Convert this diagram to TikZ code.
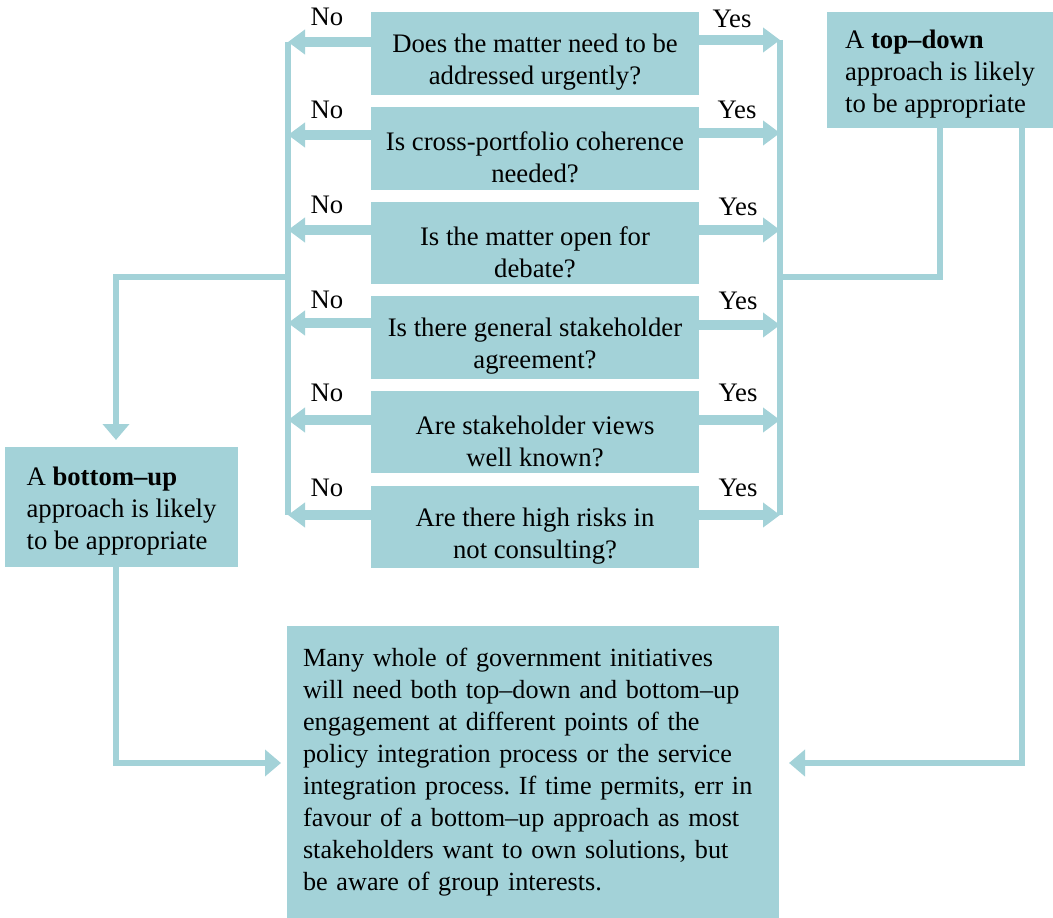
\documentclass[tikz,border=0pt]{standalone}
\usepackage{fontspec}
\setmainfont{Liberation Serif}
\usetikzlibrary{arrows.meta}
\definecolor{boxteal}{RGB}{163,210,216}
\frenchspacing
\newcommand{\qstrut}{\rule{0pt}{0.73cm}}
\newcommand{\astrut}{\rule{0pt}{0.52cm}}
\tikzset{
  qbox/.style={fill=boxteal, minimum width=6.56cm, minimum height=1.66cm, align=center, inner sep=0pt},
  abox/.style={fill=boxteal, align=left, inner sep=0pt},
  fat/.style={boxteal, line width=0.2cm, -{Triangle[width=0.48cm,length=0.34cm]}},
  link/.style={boxteal, line width=0.11cm},
  linkarrow/.style={link, -{Triangle[width=0.52cm,length=0.32cm]}},
  lbl/.style={inner sep=0pt}
}
\begin{document}
\begin{tikzpicture}[x=0.02cm, y=-0.02cm, font=\fontsize{15.2}{18.2}\selectfont]
    \useasboundingbox (0,0) rectangle (1053,918);

    % questions
    \node[qbox] (q1) at (535,53.5) {\qstrut Does the matter need to be\\addressed urgently?};
    \node[qbox] (q2) at (535,148.5) {\qstrut Is cross-portfolio coherence\\needed?};
    \node[qbox] (q3) at (535,243) {\qstrut Is the matter open for\\debate?};
    \node[qbox] (q4) at (535,337.5) {\qstrut Is there general stakeholder\\agreement?};
    \node[qbox] (q5) at (535,432) {\qstrut Are stakeholder views\\well known?};
    \node[qbox] (q6) at (535,527) {\qstrut Are there high risks in\\not consulting?};

    % outcomes
    \node[abox, minimum width=4.52cm, minimum height=2.32cm] (td) at (940,70) {\astrut A \textbf{top–down}\\approach is likely\\to be appropriate};
    \node[abox, minimum width=4.66cm, minimum height=2.4cm] (bu) at (121.5,507) {\astrut A \textbf{bottom–up}\\approach is likely\\to be appropriate};
    \node[abox, minimum width=9.84cm, minimum height=5.84cm, text width=9.2cm, font=\fontsize{14.9}{18.2}\selectfont] (fin) at (533,772) {Many whole of government initiatives\\will need both top–down and bottom–up\\engagement at different points of the\\policy integration process or the service\\integration process. If time permits, err in\\favour of a bottom–up approach as most\\stakeholders want to own solutions, but\\be aware of group interests.};

    % No / Yes labels
    \node[lbl] (no1) at (327,17) {No};
    \node[lbl] (no2) at (327,110) {No};
    \node[lbl] (no3) at (327,205) {No};
    \node[lbl] (no4) at (327,300) {No};
    \node[lbl] (no5) at (327,393) {No};
    \node[lbl] (no6) at (327,488) {No};
    \node[lbl] (yes1) at (732,19) {Yes};
    \node[lbl] (yes2) at (737,110) {Yes};
    \node[lbl] (yes3) at (738,207) {Yes};
    \node[lbl] (yes4) at (738,301) {Yes};
    \node[lbl] (yes5) at (738,393) {Yes};
    \node[lbl] (yes6) at (738,488) {Yes};

    % collecting lines
    \coordinate (L1) at (288,42);
    \coordinate (L2) at (288,135);
    \coordinate (L3) at (288,230);
    \coordinate (L4) at (288,323);
    \coordinate (L5) at (288,420);
    \coordinate (L6) at (288,515);
    \coordinate (R1) at (780,40);
    \coordinate (R2) at (780,133);
    \coordinate (R3) at (780,230);
    \coordinate (R4) at (780,325);
    \coordinate (R5) at (780,420);
    \coordinate (R6) at (780,515);
    \coordinate (Lb) at (288,277);
    \coordinate (Rb) at (780,277);
    \coordinate (Bt) at (116,440);
    \coordinate (Fl) at (281,763);
    \coordinate (Fr) at (789,763);

    \draw[link] (L1) -- (L6);
    \draw[link] (R1) -- (R6);

    \draw[fat] (q1.west |- L1) -- (L1);
    \draw[fat] (q2.west |- L2) -- (L2);
    \draw[fat] (q3.west |- L3) -- (L3);
    \draw[fat] (q4.west |- L4) -- (L4);
    \draw[fat] (q5.west |- L5) -- (L5);
    \draw[fat] (q6.west |- L6) -- (L6);
    \draw[fat] (q1.east |- R1) -- (R1);
    \draw[fat] (q2.east |- R2) -- (R2);
    \draw[fat] (q3.east |- R3) -- (R3);
    \draw[fat] (q4.east |- R4) -- (R4);
    \draw[fat] (q5.east |- R5) -- (R5);
    \draw[fat] (q6.east |- R6) -- (R6);

    % branches
    \draw[linkarrow] (Lb) -| (Bt);
    \draw[link] (td.south) |- (Rb);
    \draw[linkarrow] ([xshift=-0.11cm]bu.south) |- (Fl);
    \draw[linkarrow] ([xshift=1.64cm]td.south) |- (Fr);
\end{tikzpicture}
\end{document}
